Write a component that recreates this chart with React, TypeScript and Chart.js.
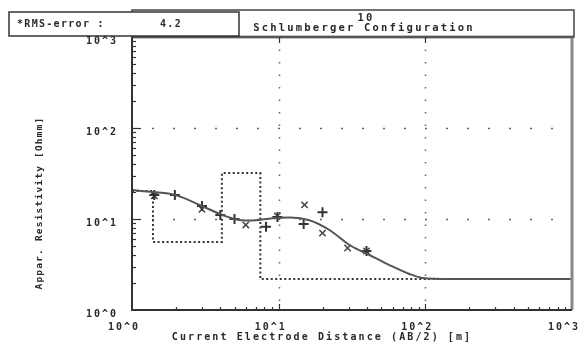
import React, { useEffect, useRef } from 'react';
import { Chart, registerables } from 'chart.js';
Chart.register(...registerables);

// Model curve (apparent resistivity vs AB/2)
const modelX = [1, 1.39, 1.96, 3.0, 4.0, 5.0, 6.0, 7.5, 10, 12, 16.2, 22.2, 30.4, 41.6, 56.9, 77.8, 95.5, 150, 1000];
const modelY = [20.8, 19.8, 18.4, 13.9, 11.3, 10.0, 9.6, 9.8, 10.3, 10.4, 9.7, 7.57, 5.18, 4.02, 3.12, 2.49, 2.25, 2.19, 2.19];

// Layer model: boundaries (AB/2) and layer resistivities
const layerBounds = [1.39, 4.1, 7.5];
const layerRes = [20.3, 5.6, 32, 2.19];

// Measured points ("+" and "x")
const plusX = [1.42, 1.96, 3.0, 4.0, 5.0, 8.2, 9.8, 14.8, 19.9, 39.7];
const plusY = [18.4, 18.4, 13.9, 11.1, 10.0, 8.2, 10.5, 8.8, 11.9, 4.45];
const crossX = [1.42, 3.0, 5.97, 9.8, 15.0, 19.9, 29.5, 39.7];
const crossY = [18.0, 12.8, 8.6, 10.8, 14.3, 7.0, 4.8, 4.45];

const decades = [0, 1, 2, 3];
const tickLabels = ['10^0', '10^1', '10^2', '10^3'];
const xTitle = 'Current Electrode Distance (AB/2) [m]';
const yTitle = 'Appar. Resistivity [Ohmm]';
const chartTitle = 'Schlumberger Configuration';
const rmsLabel = '*RMS-error :';
const rmsValue = '4.2';

const FONT = '"DejaVu Sans Mono", monospace';

const decor = {
  id: 'decor',
  beforeDatasetsDraw(chart: any) {
    const { ctx, chartArea: a, scales } = chart;
    const xs = scales.x, ys = scales.y;
    ctx.save();
    ctx.strokeStyle = '#666';
    ctx.lineWidth = 1.5;
    ctx.setLineDash([1.5, 11]);
    [10, 100].forEach((v) => {
      const px = Math.round(xs.getPixelForValue(v)) + 0.5;
      ctx.beginPath(); ctx.moveTo(px, a.top); ctx.lineTo(px, a.bottom); ctx.stroke();
    });
    ctx.setLineDash([2, 19]);
    [10, 100].forEach((v) => {
      const py = Math.round(ys.getPixelForValue(v)) + 0.5;
      ctx.beginPath(); ctx.moveTo(a.left + 20, py); ctx.lineTo(a.right, py); ctx.stroke();
    });
    ctx.restore();
  },
  afterDraw(chart: any) {
    const { ctx, chartArea: a, scales } = chart;
    const xs = scales.x, ys = scales.y;
    ctx.save();
    // frame
    ctx.strokeStyle = '#888';
    ctx.lineWidth = 3;
    ctx.beginPath(); ctx.moveTo(a.left, a.top); ctx.lineTo(a.right, a.top); ctx.lineTo(a.right, a.bottom); ctx.stroke();
    ctx.strokeStyle = '#333';
    ctx.lineWidth = 2;
    ctx.beginPath(); ctx.moveTo(a.left, a.top); ctx.lineTo(a.left, a.bottom); ctx.lineTo(a.right, a.bottom); ctx.stroke();

    // minor/major ticks
    ctx.lineWidth = 1.2;
    ctx.strokeStyle = '#333';
    for (let d = 0; d < 3; d++) {
      for (let m = 1; m <= 9; m++) {
        const v = m * Math.pow(10, d);
        if (m === 1 && d === 0) continue;
        const py = Math.round(ys.getPixelForValue(v)) + 0.5;
        const len = m === 1 ? 9 : 4;
        ctx.beginPath(); ctx.moveTo(a.left, py); ctx.lineTo(a.left + len, py); ctx.stroke();
        const px = Math.round(xs.getPixelForValue(v)) + 0.5;
        const lx = m === 1 ? 6 : 3;
        ctx.beginPath(); ctx.moveTo(px, a.bottom); ctx.lineTo(px, a.bottom - lx); ctx.stroke();
        if (m === 1) {
          ctx.beginPath(); ctx.moveTo(px, a.top); ctx.lineTo(px, a.top + 6); ctx.stroke();
        }
      }
    }

    // tick labels
    ctx.fillStyle = '#2a2a2a';
    ctx.font = `bold 10px ${FONT}`;
    (ctx as any).letterSpacing = '2px';
    ctx.textBaseline = 'middle';
    ctx.textAlign = 'right';
    decades.forEach((d, i) => {
      const py = ys.getPixelForValue(Math.pow(10, d));
      ctx.fillText(tickLabels[i], 118, py + 4);
    });
    ctx.textAlign = 'center';
    decades.forEach((d, i) => {
      const px = xs.getPixelForValue(Math.pow(10, d));
      ctx.fillText(tickLabels[i], px - 8, 327);
    });

    // axis titles
    ctx.font = `bold 10px ${FONT}`;
    (ctx as any).letterSpacing = '2.1px';
    ctx.fillText(xTitle, 322, 337);
    ctx.save();
    ctx.translate(40, 203);
    ctx.rotate(-Math.PI / 2);
    (ctx as any).letterSpacing = '1.2px';
    ctx.font = `bold 9.5px ${FONT}`;
    ctx.fillText(yTitle, 0, 0);
    ctx.restore();

    // title box
    ctx.strokeStyle = '#444';
    ctx.lineWidth = 1.5;
    ctx.strokeRect(132, 10, 442, 27);
    (ctx as any).letterSpacing = '2.2px';
    ctx.font = `bold 10.5px ${FONT}`;
    ctx.textAlign = 'center';
    ctx.fillText(chartTitle, 364, 28);
    ctx.fillText('10', 366, 18);

    // RMS box
    ctx.fillStyle = '#fff';
    ctx.fillRect(9, 12, 230, 24);
    ctx.strokeStyle = '#333';
    ctx.strokeRect(9, 12, 230, 24);
    ctx.fillStyle = '#2a2a2a';
    ctx.textAlign = 'left';
    (ctx as any).letterSpacing = '1.3px';
    ctx.font = `bold 10px ${FONT}`;
    ctx.fillText(rmsLabel, 17, 24);
    ctx.fillText(rmsValue, 160, 24);
    ctx.restore();
  },
};

export default function App() {
  const ref = useRef<HTMLCanvasElement>(null);
  useEffect(() => {
    document.body.style.margin = '0';
    const layerPts: { x: number; y: number }[] = [{ x: 1, y: layerRes[0] }];
    layerBounds.forEach((b, i) => {
      layerPts.push({ x: b, y: layerRes[i] });
      layerPts.push({ x: b, y: layerRes[i + 1] });
    });
    layerPts.push({ x: 1000, y: layerRes[layerRes.length - 1] });

    const chart = new Chart(ref.current!, {
      type: 'line',
      data: {
        datasets: [
          {
            data: modelX.map((x, i) => ({ x, y: modelY[i] })),
            borderColor: '#555',
            borderWidth: 2,
            pointRadius: 0,
            cubicInterpolationMode: 'monotone',
            fill: false,
          },
          {
            data: layerPts,
            borderColor: '#333',
            borderWidth: 2,
            borderDash: [2, 2.5],
            pointRadius: 0,
            tension: 0,
            fill: false,
          },
          {
            type: 'scatter',
            data: plusX.map((x, i) => ({ x, y: plusY[i] })),
            pointStyle: 'cross',
            pointRadius: 5,
            borderWidth: 2,
            borderColor: '#333',
            showLine: false,
          } as any,
          {
            type: 'scatter',
            data: crossX.map((x, i) => ({ x, y: crossY[i] })),
            pointStyle: 'crossRot',
            pointRadius: 4.5,
            borderWidth: 1.5,
            borderColor: '#444',
            showLine: false,
          } as any,
        ],
      },
      options: {
        animation: false,
        responsive: false,
        layout: { padding: { left: 132, right: 6, top: 37, bottom: 33 } },
        plugins: { legend: { display: false }, tooltip: { enabled: false } },
        scales: {
          x: { type: 'logarithmic', min: 1, max: 1000, display: false },
          y: { type: 'logarithmic', min: 1, max: 1000, display: false },
        },
      },
      plugins: [decor],
    });
    return () => chart.destroy();
  }, []);
  return (
    <div style={{ position: 'absolute', left: 0, top: 0, width: 579, height: 343, background: '#fff' }}>
      <canvas ref={ref} width={579} height={343} style={{ width: 579, height: 343 }} />
    </div>
  );
}
